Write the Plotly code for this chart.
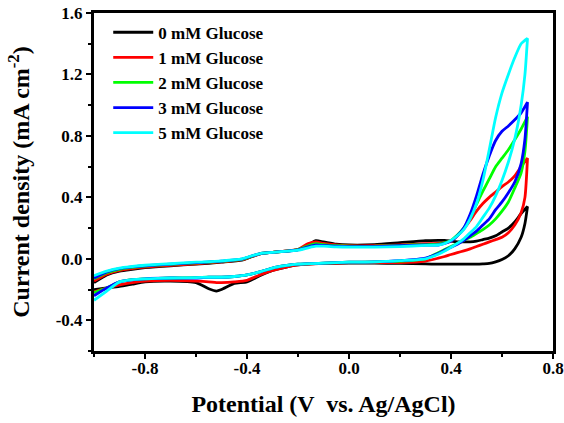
import plotly.graph_objects as go

# ---------------- data ----------------
# forward (anodic) sweep potentials, V vs Ag/AgCl
POT_FWD = [-1.0, -0.95, -0.9, -0.85, -0.8, -0.7, -0.6, -0.5, -0.42, -0.38, -0.34, -0.3,
           -0.2, -0.16, -0.13, -0.1, -0.05, 0.0, 0.1, 0.2, 0.3,
           0.35, 0.375, 0.4, 0.425, 0.45, 0.475, 0.5, 0.525, 0.55, 0.575, 0.6, 0.625,
           0.65, 0.675, 0.7]
# reverse (cathodic) sweep potentials
POT_REV = [0.7, 0.69, 0.675, 0.65, 0.625, 0.6, 0.575, 0.55, 0.525, 0.5, 0.475, 0.45,
           0.425, 0.4, 0.375, 0.35, 0.3, 0.2, 0.1, 0.0, -0.1, -0.2, -0.25, -0.3, -0.35,
           -0.4, -0.45, -0.5, -0.52, -0.55, -0.6, -0.7, -0.8, -0.85, -0.9, -0.95, -1.0]

LABELS = ["0 mM Glucose", "1 mM Glucose", "2 mM Glucose", "3 mM Glucose", "5 mM Glucose"]

J0_FWD = [-0.155, -0.105, -0.08, -0.068, -0.058, -0.045, -0.035, -0.022, -0.008, 0.015, 0.035, 0.042,
          0.06, 0.09, 0.118, 0.11, 0.095, 0.09, 0.092, 0.105, 0.118,
          0.12, 0.12, 0.115, 0.11, 0.11, 0.11, 0.115, 0.125, 0.135, 0.15, 0.175, 0.20,
          0.24, 0.295, 0.34]
J0_REV = [0.34, 0.23, 0.14, 0.065, 0.02, -0.005, -0.02, -0.03, -0.033, -0.035, -0.035, -0.035,
          -0.035, -0.035, -0.035, -0.035, -0.033, -0.03, -0.028, -0.028, -0.03, -0.04, -0.055, -0.075, -0.11,
          -0.15, -0.16, -0.20, -0.21, -0.195, -0.155, -0.145, -0.15, -0.165, -0.18, -0.19, -0.20]

J1_FWD = [-0.145, -0.10, -0.075, -0.063, -0.054, -0.042, -0.032, -0.02, -0.006, 0.016, 0.036, 0.042,
          0.062, 0.10, 0.11, 0.10, 0.09, 0.085, 0.085, 0.09, 0.098,
          0.10, 0.105, 0.115, 0.15, 0.195, 0.25, 0.31, 0.36, 0.40, 0.435, 0.47, 0.50,
          0.54, 0.60, 0.655]
J1_REV = [0.655, 0.40, 0.30, 0.22, 0.17, 0.14, 0.125, 0.11, 0.095, 0.08, 0.065, 0.052,
          0.04, 0.028, 0.015, 0.004, -0.015, -0.025, -0.025, -0.025, -0.03, -0.04, -0.055, -0.075, -0.105,
          -0.14, -0.15, -0.155, -0.155, -0.15, -0.145, -0.14, -0.145, -0.155, -0.17, -0.19, -0.215]

J2_FWD = [-0.13, -0.09, -0.068, -0.056, -0.048, -0.036, -0.027, -0.017, -0.004, 0.018, 0.037, 0.042,
          0.06, 0.085, 0.098, 0.092, 0.085, 0.082, 0.082, 0.087, 0.093,
          0.095, 0.105, 0.12, 0.155, 0.20, 0.27, 0.355, 0.44, 0.52, 0.60, 0.655, 0.71,
          0.775, 0.845, 0.925]
J2_REV = [0.925, 0.70, 0.56, 0.46, 0.37, 0.31, 0.26, 0.22, 0.19, 0.165, 0.14, 0.12,
          0.10, 0.08, 0.06, 0.04, 0.0, -0.015, -0.02, -0.022, -0.028, -0.035, -0.045, -0.06, -0.085,
          -0.105, -0.115, -0.12, -0.12, -0.12, -0.122, -0.125, -0.13, -0.135, -0.15, -0.19, -0.22]

J3_FWD = [-0.125, -0.085, -0.064, -0.053, -0.045, -0.034, -0.025, -0.015, -0.002, 0.019, 0.037, 0.042,
          0.058, 0.078, 0.09, 0.087, 0.082, 0.08, 0.08, 0.085, 0.09,
          0.09, 0.10, 0.115, 0.15, 0.20, 0.29, 0.41, 0.55, 0.67, 0.77, 0.83, 0.865,
          0.905, 0.95, 1.02]
J3_REV = [1.02, 0.78, 0.62, 0.50, 0.43, 0.37, 0.32, 0.26, 0.22, 0.18, 0.15, 0.12,
          0.095, 0.075, 0.055, 0.035, 0.005, -0.012, -0.02, -0.022, -0.028, -0.035, -0.045, -0.06, -0.085,
          -0.105, -0.115, -0.12, -0.12, -0.12, -0.125, -0.125, -0.13, -0.137, -0.15, -0.19, -0.24]

J5_FWD = [-0.11, -0.08, -0.06, -0.05, -0.042, -0.032, -0.022, -0.013, 0.0, 0.02, 0.037, 0.042,
          0.056, 0.072, 0.082, 0.082, 0.078, 0.076, 0.076, 0.08, 0.087,
          0.09, 0.10, 0.12, 0.15, 0.19, 0.26, 0.36, 0.51, 0.71, 0.92, 1.08, 1.20,
          1.31, 1.40, 1.435]
J5_REV = [1.435, 1.20, 1.00, 0.78, 0.63, 0.51, 0.41, 0.33, 0.27, 0.21, 0.17, 0.13,
          0.10, 0.075, 0.05, 0.03, 0.0, -0.012, -0.02, -0.022, -0.028, -0.035, -0.045, -0.06, -0.085,
          -0.105, -0.115, -0.12, -0.12, -0.12, -0.122, -0.125, -0.13, -0.135, -0.15, -0.21, -0.27]

X_TICKS = [-0.8, -0.4, 0.0, 0.4, 0.8]
X_TICKTEXT = ["-0.8", "-0.4", "0.0", "0.4", "0.8"]
Y_TICKS = [-0.4, 0.0, 0.4, 0.8, 1.2, 1.6]
Y_TICKTEXT = ["-0.4", "0.0", "0.4", "0.8", "1.2", "1.6"]

# ---------------- styles ----------------
COLORS = ["#000000", "#FF0000", "#00FF00", "#0000FF", "#00FFFF"]
FONT = "Liberation Serif"

series = [(J0_FWD, J0_REV), (J1_FWD, J1_REV), (J2_FWD, J2_REV), (J3_FWD, J3_REV), (J5_FWD, J5_REV)]

fig = go.Figure()
for i, ((fwd, rev), name, col) in enumerate(zip(series, LABELS, COLORS)):
    fig.add_trace(go.Scatter(
        x=POT_FWD + POT_REV, y=fwd + rev, mode="lines", name=name,
        legendgroup=f"g{i}",
        line=dict(color=col, width=2.8, shape="spline", smoothing=0.6),
    ))

axis_common = dict(
    showline=True, linecolor="black", linewidth=3, mirror=True,
    ticks="outside", ticklen=5, tickwidth=2, tickcolor="black",
    showgrid=False, zeroline=False, automargin=False,
    tickfont=dict(family=FONT, size=17, color="black", weight="bold"),
    minor=dict(ticks="outside", ticklen=3, tickwidth=2, tickcolor="black", dtick=0.2),
)

fig.update_xaxes(
    range=[-1.0, 0.8], tickvals=X_TICKS, ticktext=X_TICKTEXT, ticklabelstandoff=-5,
    title=dict(text="Potential (V \u00a0vs. Ag/AgCl)", standoff=18,
               font=dict(family=FONT, size=24, color="black", weight="bold")),
    **axis_common,
)
fig.update_yaxes(
    range=[-0.6, 1.6], tickvals=Y_TICKS, ticktext=Y_TICKTEXT,
    title=dict(text="Current density (mA cm<sup>-2</sup>)", standoff=20,
               font=dict(family=FONT, size=24, color="black", weight="bold")),
    **axis_common,
)

fig.update_layout(
    width=564, height=423,
    margin=dict(l=94, r=11, t=13, b=72),
    paper_bgcolor="white", plot_bgcolor="white",
    showlegend=True,
    legend=dict(
        x=0.031, y=0.995, xanchor="left", yanchor="top",
        bgcolor="rgba(0,0,0,0)", borderwidth=0,
        font=dict(family=FONT, size=17, color="black", weight="bold"),
        itemwidth=40, tracegroupgap=0,
    ),
)

fig.write_html("out.html")
